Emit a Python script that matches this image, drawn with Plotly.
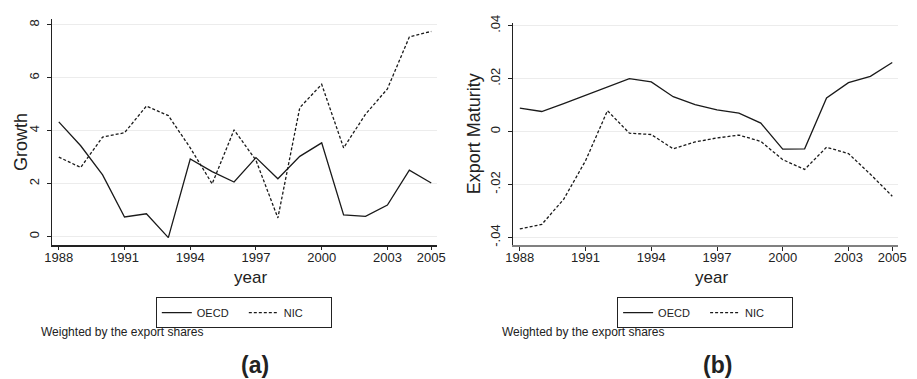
import plotly.graph_objects as go

# Years covered by both panels
years = list(range(1988, 2006))

# Panel (a): growth, weighted by export shares
growth_oecd = [4.33, 3.43, 2.33, 0.74, 0.86, -0.04, 2.93, 2.45, 2.06, 2.98,
               2.18, 3.03, 3.54, 0.82, 0.76, 1.19, 2.51, 2.02]
growth_nic = [3.00, 2.61, 3.76, 3.92, 4.93, 4.57, 3.35, 1.99, 4.03, 2.88,
              0.70, 4.87, 5.75, 3.35, 4.62, 5.58, 7.54, 7.75]

# Panel (b): export maturity, weighted by export shares
maturity_oecd = [0.0089, 0.0076, 0.0106, 0.0137, 0.0171, 0.0200, 0.0188, 0.0132,
                 0.0102, 0.0082, 0.0070, 0.0032, -0.0066, -0.0065, 0.0127, 0.0185,
                 0.0209, 0.0261]
maturity_nic = [-0.0368, -0.0351, -0.0256, -0.0110, 0.0079, -0.0006, -0.0011, -0.0065,
                -0.0039, -0.0024, -0.0013, -0.0037, -0.0106, -0.0143, -0.0059, -0.0083,
                -0.0161, -0.0244]

x_ticks = [1988, 1991, 1994, 1997, 2000, 2003, 2005]
growth_ticks = [0, 2, 4, 6, 8]
growth_ticktext = ["0", "2", "4", "6", "8"]
maturity_ticks = [-0.04, -0.02, 0, 0.02, 0.04]
maturity_ticktext = ["-.04", "-.02", "0", ".02", ".04"]

W, H = 917, 379
FONT = "Liberation Sans, Arial, sans-serif"
LINE = "#1a1a1a"


def px_x(v):
    return v / W


def px_y(v):
    return 1 - v / H


fig = go.Figure()

fig.add_trace(go.Scatter(x=years, y=growth_oecd, mode="lines", name="OECD",
                         line=dict(color=LINE, width=1.3),
                         xaxis="x", yaxis="y", legend="legend"))
fig.add_trace(go.Scatter(x=years, y=growth_nic, mode="lines", name="NIC",
                         line=dict(color=LINE, width=1.3, dash="3px,2px"),
                         xaxis="x", yaxis="y", legend="legend"))
fig.add_trace(go.Scatter(x=years, y=maturity_oecd, mode="lines", name="OECD",
                         line=dict(color=LINE, width=1.3),
                         xaxis="x2", yaxis="y2", legend="legend2"))
fig.add_trace(go.Scatter(x=years, y=maturity_nic, mode="lines", name="NIC",
                         line=dict(color=LINE, width=1.3, dash="3px,2px"),
                         xaxis="x2", yaxis="y2", legend="legend2"))

xaxis_common = dict(
    tickmode="array", tickvals=x_ticks, ticks="outside", ticklen=4,
    tickcolor="#222", tickwidth=1.2, showgrid=False, zeroline=False,
    showline=True, ticklabelstandoff=-4,
    tickfont=dict(size=13, color="#222", family=FONT),
)
yaxis_common = dict(
    tickmode="array", ticks="outside", ticklen=4, tickcolor="#222", tickwidth=1.2,
    tickangle=-90, showgrid=True, gridcolor="#ececec", gridwidth=1.2,
    zeroline=False, showline=True, linecolor="#222", linewidth=1.3,
    ticklabelstandoff=3,
    tickfont=dict(size=13, color="#222", family=FONT),
)

legend_common = dict(orientation="h", xanchor="center", y=px_y(297), yanchor="top",
                     bordercolor="#222", borderwidth=1, entrywidth=42,
                     font=dict(size=11, family=FONT), itemwidth=30)

fig.update_layout(
    width=W, height=H,
    margin=dict(l=0, r=0, t=0, b=0),
    paper_bgcolor="white", plot_bgcolor="white",
    font=dict(family=FONT, color="#222"),
    xaxis=dict(domain=[px_x(45), px_x(437)], range=[1987.7, 2005.28],
               anchor="y", linecolor="#222", linewidth=1.6, **xaxis_common),
    yaxis=dict(domain=[px_y(243), px_y(11)], range=[-0.305, 8.23], anchor="x",
               tickvals=growth_ticks, ticktext=growth_ticktext, **yaxis_common),
    xaxis2=dict(domain=[px_x(514), px_x(906)], range=[1987.69, 2005.27],
                anchor="y2", linecolor="#808080", linewidth=2.2, **xaxis_common),
    yaxis2=dict(domain=[px_y(243), px_y(15)], range=[-0.0427, 0.0412], anchor="x2",
                tickvals=maturity_ticks, ticktext=maturity_ticktext, **yaxis_common),
    legend=dict(x=px_x(240), **legend_common),
    legend2=dict(x=px_x(709.5), **legend_common),
)

annotations = [
    dict(text="year", x=px_x(247), y=px_y(277), size=17),
    dict(text="year", x=px_x(716), y=px_y(277), size=17),
    dict(text="Growth", x=px_x(14), y=px_y(138), size=18, textangle=-90),
    dict(text="Export Maturity", x=px_x(474), y=px_y(129), size=18, textangle=-90),
    dict(text="Weighted by the export shares", x=px_x(32), y=px_y(333),
         xanchor="left", size=12),
    dict(text="Weighted by the export shares", x=px_x(501), y=px_y(333),
         xanchor="left", size=12),
    dict(text="<b>(a)</b>", x=px_x(251), y=px_y(367), size=23),
    dict(text="<b>(b)</b>", x=px_x(722), y=px_y(367), size=23),
]
for a in annotations:
    size = a.pop("size")
    a.setdefault("xanchor", "center")
    fig.add_annotation(xref="paper", yref="paper", showarrow=False,
                       yanchor="middle",
                       font=dict(family=FONT, color="#222", size=size), **a)

fig.write_html("out.html")
